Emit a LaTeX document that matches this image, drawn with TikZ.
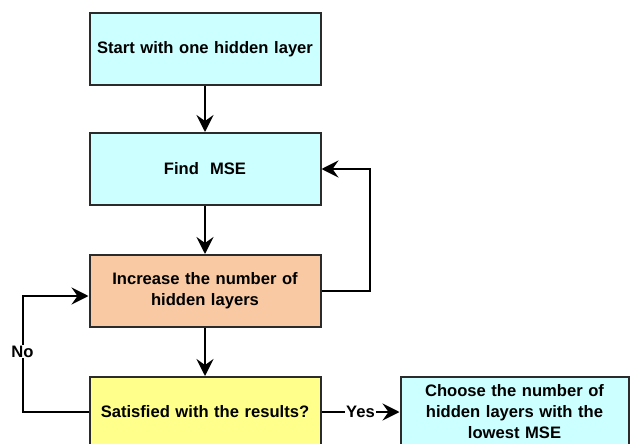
\documentclass[tikz,border=0pt]{standalone}
\usepackage{fontspec}
\setmainfont{Liberation Sans}
\usetikzlibrary{positioning,arrows.meta}

\definecolor{boxcyan}{HTML}{CCFFFF}
\definecolor{boxpeach}{HTML}{F8C9A2}
\definecolor{boxyellow}{HTML}{FFFF8C}
\definecolor{edgegray}{HTML}{2B2B2B}

\begin{document}
\begin{tikzpicture}[x=1pt, y=1pt, line width=2pt,
		stepbox/.style={draw=edgegray, minimum width=231pt, minimum height=72pt,
			text width=228pt, align=center, inner sep=0pt,
			font=\fontsize{16.6}{21}\selectfont\bfseries},
		arr/.style={draw=black, -{Stealth[length=17pt, width=17pt, inset=6pt]}},
		lbl/.style={fill=white, inner sep=1pt, font=\fontsize{16.6}{21}\selectfont\bfseries}]
		\useasboundingbox (0,0) rectangle (630,-444);

		\node[stepbox, fill=boxcyan] (start) at (205,-49) {Start with one hidden layer};
		\node[stepbox, fill=boxcyan, below=46pt of start] (mse) {Find~~MSE};
		\node[stepbox, fill=boxpeach, below=48pt of mse] (inc) {Increase the number of\\hidden layers};
		\node[stepbox, fill=boxyellow, minimum height=70pt, below=48pt of inc] (sat) {Satisfied with the results?};
		\node[stepbox, fill=boxcyan, minimum width=228pt, text width=225pt, minimum height=70pt, right=78pt of sat] (choose)
			{Choose the number of\\hidden layers with the\\lowest MSE};

		\coordinate (loopR) at ([xshift=48pt]inc.east);
		\coordinate (loopL) at ([xshift=-66pt]sat.west);

		\draw[arr] (start) -- (mse);
		\draw[arr] (mse) -- (inc);
		\draw[arr] (inc) -- (sat);
		\draw[arr] (inc.east) -- (loopR) |- (mse.east);
		\draw[arr] (sat.west) -- (loopL) |- node[lbl, pos=0.26] {No} ([yshift=-5pt]inc.west);
		\draw[arr] (sat) -- node[lbl] {Yes} (choose);
	\end{tikzpicture}
\end{document}
